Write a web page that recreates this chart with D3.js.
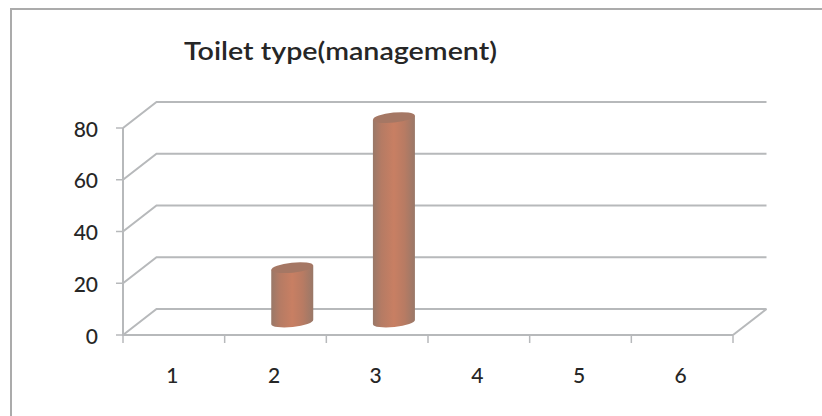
<!DOCTYPE html>
<html>
<head>
<meta charset="utf-8">
<script src="https://cdn.jsdelivr.net/npm/d3@7"></script>
<style>
html,body{margin:0;padding:0;background:#fff}
svg{display:block}
text{font-family:Lato,"Open Sans",sans-serif;fill:#262626}
</style>
</head>
<body>
<svg id="chart" width="822" height="416"></svg>
<script>
const chartTitle = "Toilet type(management)";
const categories = ["1","2","3","4","5","6"];
const values = [null,21,79,null,null,null];
const valueTicks = [0,20,40,60,80];

const depth = {x:33.5, y:-26};
const svg = d3.select("#chart");
const x = d3.scaleBand().domain(categories).range([123,733]);
const y = d3.scaleLinear().domain([0,80]).range([335,128]);
const gridColor = "#b7b9bb";

const grad = svg.append("defs").append("linearGradient").attr("id","cyl");
[[0,"#997868"],[0.2,"#b57b64"],[0.5,"#c87f63"],[0.75,"#b87b63"],[1,"#997868"]]
  .forEach(([o,c])=>grad.append("stop").attr("offset",o).attr("stop-color",c));

// chart frame
svg.append("path").attr("d","M822,9H11V416").attr("fill","none").attr("stroke","#ababab").attr("stroke-width",2);

svg.append("text").attr("x",340.5).attr("y",60).attr("text-anchor","middle")
  .attr("font-size",24).attr("font-weight",600)
  .attr("textLength",313).attr("lengthAdjust","spacingAndGlyphs").text(chartTitle);

// back wall gridlines and their diagonal returns on the side wall
const grid = svg.append("g").attr("fill","none").attr("stroke",gridColor).attr("stroke-width",2);
valueTicks.forEach(t=>{
  grid.append("path").attr("d",d3.line()([[123,y(t)],[123+depth.x,y(t)+depth.y],[733+depth.x,y(t)+depth.y]]));
});
// floor edge on the right
grid.append("path").attr("d",d3.line()([[733,y(0)],[733+depth.x,y(0)+depth.y]]));

// front axes
const axes = svg.append("g").attr("fill","none").attr("stroke",gridColor).attr("stroke-width",2);
axes.append("path").attr("d",`M123,${y(80)}V${y(0)}H733`);
const ticks = svg.append("g").attr("fill","none").attr("stroke",gridColor).attr("stroke-width",1.5);
valueTicks.forEach(t=>ticks.append("path").attr("d",`M116,${y(t)}H123`));
x.domain().forEach(c=>ticks.append("path").attr("d",`M${x(c)},${y(0)}v8`));
ticks.append("path").attr("d",`M733,${y(0)}v8`);

// cylinders, standing mid-way through the floor depth
const rx = 21, ry = 5, tilt = -6;
const bars = svg.append("g");
categories.forEach((c,i)=>{
  if(values[i]==null) return;
  const cx = x(c)+x.bandwidth()/2+depth.x/2;
  const top = y(values[i])+depth.y/2;
  const base = y(0)+depth.y/2;
  const dyTilt = rx*Math.tan(-tilt*Math.PI/180);
  bars.append("path").attr("fill","url(#cyl)")
    .attr("d",`M${cx-rx},${top+dyTilt} L${cx-rx},${base+dyTilt} A${rx},${ry} ${tilt} 0 0 ${cx+rx},${base-dyTilt} L${cx+rx},${top-dyTilt} Z`);
  bars.append("ellipse").attr("cx",cx).attr("cy",top).attr("rx",rx).attr("ry",ry)
    .attr("transform",`rotate(${tilt} ${cx} ${top})`).attr("fill","#a57764");
});

// tick labels
valueTicks.forEach(t=>svg.append("text").attr("x",98).attr("y",y(t)+8.5).attr("text-anchor","end")
  .attr("font-size",21).attr("font-weight",500).text(t));
categories.forEach(c=>svg.append("text").attr("x",x(c)+x.bandwidth()/2-1.5).attr("y",383).attr("text-anchor","middle")
  .attr("font-size",21).attr("font-weight",500).text(c));
</script>
</body>
</html>
